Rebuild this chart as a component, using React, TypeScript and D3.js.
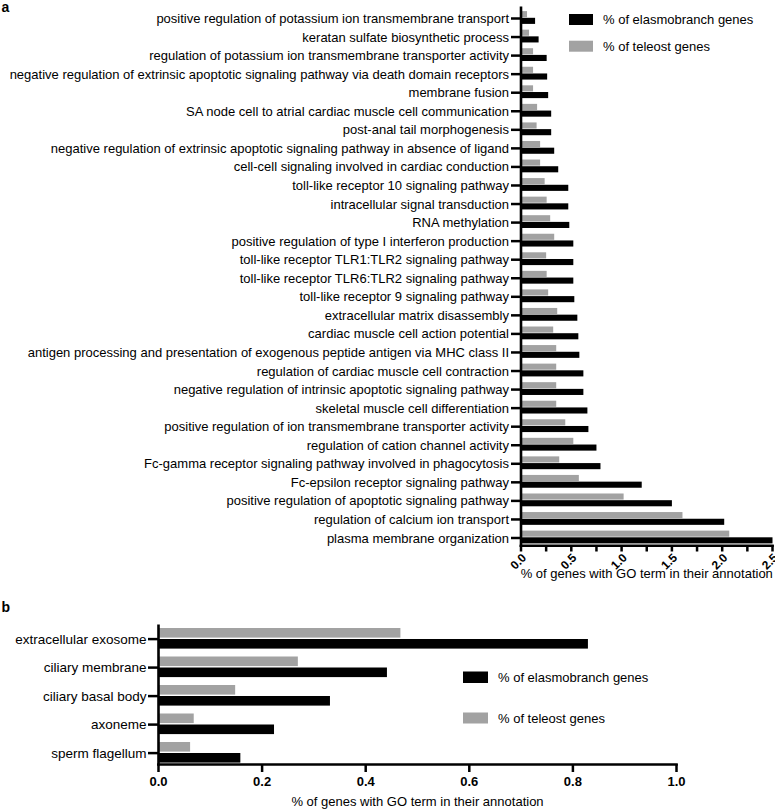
import React from "react";
import * as d3 from "d3";

const categoriesA = [
  "positive regulation of potassium ion transmembrane transport",
  "keratan sulfate biosynthetic process",
  "regulation of potassium ion transmembrane transporter activity",
  "negative regulation of extrinsic apoptotic signaling pathway via death domain receptors",
  "membrane fusion",
  "SA node cell to atrial cardiac muscle cell communication",
  "post-anal tail morphogenesis",
  "negative regulation of extrinsic apoptotic signaling pathway in absence of ligand",
  "cell-cell signaling involved in cardiac conduction",
  "toll-like receptor 10 signaling pathway",
  "intracellular signal transduction",
  "RNA methylation",
  "positive regulation of type I interferon production",
  "toll-like receptor TLR1:TLR2 signaling pathway",
  "toll-like receptor TLR6:TLR2 signaling pathway",
  "toll-like receptor 9 signaling pathway",
  "extracellular matrix disassembly",
  "cardiac muscle cell action potential",
  "antigen processing and presentation of exogenous peptide antigen via MHC class II",
  "regulation of cardiac muscle cell contraction",
  "negative regulation of intrinsic apoptotic signaling pathway",
  "skeletal muscle cell differentiation",
  "positive regulation of ion transmembrane transporter activity",
  "regulation of cation channel activity",
  "Fc-gamma receptor signaling pathway involved in phagocytosis",
  "Fc-epsilon receptor signaling pathway",
  "positive regulation of apoptotic signaling pathway",
  "regulation of calcium ion transport",
  "plasma membrane organization",
];
const elasmoA = [0.14, 0.175, 0.255, 0.26, 0.27, 0.3, 0.3, 0.33, 0.37, 0.47, 0.47, 0.48, 0.52, 0.52, 0.52, 0.53, 0.56, 0.57, 0.58, 0.62, 0.62, 0.66, 0.67, 0.75, 0.79, 1.2, 1.5, 2.02, 2.5];
const teleostA = [0.06, 0.08, 0.12, 0.12, 0.12, 0.16, 0.155, 0.19, 0.19, 0.235, 0.255, 0.29, 0.33, 0.25, 0.255, 0.27, 0.36, 0.32, 0.35, 0.35, 0.35, 0.35, 0.44, 0.52, 0.38, 0.575, 1.02, 1.605, 2.07];
const majorTicksA = [0, 0.5, 1, 1.5, 2, 2.5];
const minorTicksA = [0.25, 0.75, 1.25, 1.75, 2.25];

const categoriesB = ["extracellular exosome", "ciliary membrane", "ciliary basal body", "axoneme", "sperm flagellum"];
const elasmoB = [0.829, 0.441, 0.331, 0.223, 0.158];
const teleostB = [0.467, 0.269, 0.148, 0.068, 0.061];
const ticksB = [0, 0.2, 0.4, 0.6, 0.8, 1.0];

const legendLabels = ["% of elasmobranch genes", "% of teleost genes"];
const axisTitle = "% of genes with GO term in their annotation";

const BLACK = "#000000";
const GRAY = "#a2a2a2";
const FONT = "'Liberation Sans', Arial, Helvetica, sans-serif";

export default function App() {
  // Panel a scales
  const xA = d3.scaleLinear().domain([0, 2.5]).range([521, 772.5]);
  const yA = d3.scalePoint<string>().domain(categoriesA).range([17.5, 537]);
  const hA = 6.1;
  const gA = 0.3;

  // Panel b scales
  const xB = d3.scaleLinear().domain([0, 1]).range([158.5, 676.5]);
  const yB = d3.scalePoint<string>().domain(categoriesB).range([638.3, 752.3]);
  const hB = 9.6;
  const gB = 0.7;

  const fmt = d3.format(".1f");

  return (
    <svg
      width={775}
      height={809}
      style={{ position: "absolute", left: 0, top: 0, background: "#fff" }}
      fontFamily={FONT}
    >
      <rect x={0} y={0} width={775} height={809} fill="#fff" />
      {/* Panel labels */}
      <text x={1.5} y={11.5} fontSize={14} fontWeight="bold">a</text>
      <text x={1.5} y={611.5} fontSize={14} fontWeight="bold">b</text>

      {/* ===== Panel a ===== */}
      {categoriesA.map((c, i) => {
        const cy = yA(c)!;
        return (
          <g key={c}>
            <rect x={xA(0)} y={cy - gA - hA} width={xA(teleostA[i]) - xA(0)} height={hA} fill={GRAY} />
            <rect x={xA(0)} y={cy + gA} width={xA(elasmoA[i]) - xA(0)} height={hA} fill={BLACK} />
            <line x1={511} x2={xA(0)} y1={cy + 1} y2={cy + 1} stroke={BLACK} strokeWidth={2.5} />
            <text x={509} y={cy + 1} fontSize={13} textAnchor="end" dominantBaseline="central">{c}</text>
          </g>
        );
      })}
      <line x1={xA(0)} x2={xA(0)} y1={6.5} y2={547} stroke={BLACK} strokeWidth={2.6} />
      <line x1={xA(0) - 1.3} x2={xA(2.5) + 1.3} y1={545.7} y2={545.7} stroke={BLACK} strokeWidth={2.6} />
      {[...majorTicksA, ...minorTicksA].map((t) => (
        <line key={"ta" + t} x1={xA(t)} x2={xA(t)} y1={545} y2={551.5} stroke={BLACK} strokeWidth={2.5} />
      ))}
      {majorTicksA.map((t) => (
        <text
          key={"la" + t}
          transform={`translate(${xA(t) + 6},${558.5}) rotate(-45)`}
          fontSize={12}
          fontWeight="bold"
          textAnchor="end"
        >
          {fmt(t)}
        </text>
      ))}
      <text x={(xA(0) + xA(2.5)) / 2} y={578} fontSize={13} textAnchor="middle">{axisTitle}</text>

      {/* Legend a */}
      <rect x={569} y={14} width={24} height={11} fill={BLACK} />
      <text x={603} y={19.5} fontSize={13} dominantBaseline="central">{legendLabels[0]}</text>
      <rect x={569} y={40.7} width={24} height={11} fill={GRAY} />
      <text x={603} y={46.2} fontSize={13} dominantBaseline="central">{legendLabels[1]}</text>

      {/* ===== Panel b ===== */}
      {categoriesB.map((c, i) => {
        const cy = yB(c)!;
        return (
          <g key={c}>
            <rect x={xB(0)} y={cy - gB - hB} width={xB(teleostB[i]) - xB(0)} height={hB} fill={GRAY} />
            <rect x={xB(0)} y={cy + gB} width={xB(elasmoB[i]) - xB(0)} height={hB} fill={BLACK} />
            <line x1={148} x2={xB(0)} y1={cy + 0.8} y2={cy + 0.8} stroke={BLACK} strokeWidth={2.5} />
            <text x={146.5} y={cy + 0.8} fontSize={13.5} textAnchor="end" dominantBaseline="central">{c}</text>
          </g>
        );
      })}
      <line x1={xB(0)} x2={xB(0)} y1={624.5} y2={765.5} stroke={BLACK} strokeWidth={2.6} />
      <line x1={xB(0) - 1.3} x2={xB(1) + 1.3} y1={764.5} y2={764.5} stroke={BLACK} strokeWidth={2.6} />
      {ticksB.map((t) => (
        <g key={"tb" + t}>
          <line x1={xB(t)} x2={xB(t)} y1={764} y2={772} stroke={BLACK} strokeWidth={2.5} />
          <text x={xB(t)} y={786} fontSize={13} fontWeight="bold" textAnchor="middle">{fmt(t)}</text>
        </g>
      ))}
      <text x={(xB(0) + xB(1)) / 2} y={806} fontSize={13} textAnchor="middle">{axisTitle}</text>

      {/* Legend b */}
      <rect x={463} y={671.5} width={25} height={11.5} fill={BLACK} />
      <text x={498} y={677.5} fontSize={13} dominantBaseline="central">{legendLabels[0]}</text>
      <rect x={463} y={712.5} width={25} height={11} fill={GRAY} />
      <text x={498} y={718} fontSize={13} dominantBaseline="central">{legendLabels[1]}</text>
    </svg>
  );
}
